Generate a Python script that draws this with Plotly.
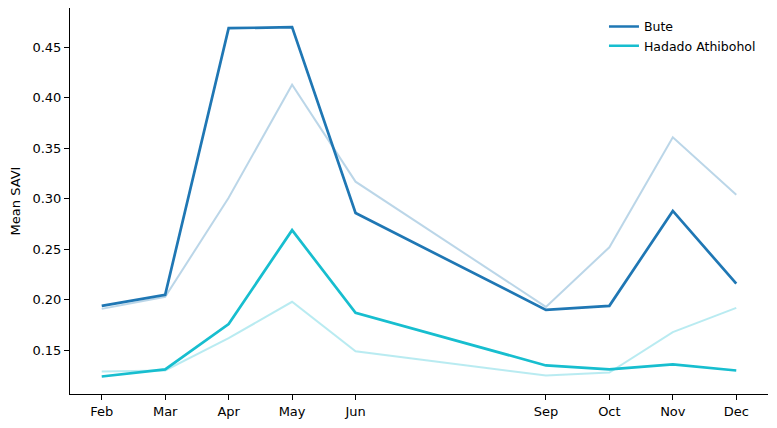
import plotly.graph_objects as go

months = ["Feb", "Mar", "Apr", "May", "Jun", "Sep", "Oct", "Nov", "Dec"]
month_num = [2, 3, 4, 5, 6, 9, 10, 11, 12]

bute = [0.194, 0.205, 0.469, 0.470, 0.286, 0.190, 0.194, 0.288, 0.216]
bute_prev = [0.191, 0.203, 0.301, 0.413, 0.317, 0.193, 0.252, 0.361, 0.304]
hadado = [0.124, 0.131, 0.176, 0.269, 0.187, 0.135, 0.131, 0.136, 0.130]
hadado_prev = [0.129, 0.130, 0.162, 0.198, 0.149, 0.125, 0.128, 0.168, 0.192]

blue = "#1f77b4"
cyan = "#17becf"

fig = go.Figure()
# faint lines first so the main ones sit on top
fig.add_trace(go.Scatter(x=month_num, y=bute_prev, mode="lines", showlegend=False,
                         line=dict(color="rgba(31,119,180,0.3)", width=2)))
fig.add_trace(go.Scatter(x=month_num, y=hadado_prev, mode="lines", showlegend=False,
                         line=dict(color="rgba(23,190,207,0.3)", width=2)))
fig.add_trace(go.Scatter(x=month_num, y=bute, mode="lines", name="Bute",
                         line=dict(color=blue, width=2.7)))
fig.add_trace(go.Scatter(x=month_num, y=hadado, mode="lines", name="Hadado Athibohol",
                         line=dict(color=cyan, width=2.7)))

# page body adds 8px, so the figure is a bit smaller than the window
fig.update_layout(
    width=769, height=420,
    margin=dict(l=62, r=9, t=0, b=34),
    plot_bgcolor="white", paper_bgcolor="white",
    font=dict(family="DejaVu Sans", size=13, color="black"),
    legend=dict(x=0.765, y=0.99, xanchor="left", yanchor="top",
                bgcolor="rgba(0,0,0,0)", font=dict(size=12.5),
                itemwidth=30, tracegroupgap=0),
)
fig.update_xaxes(range=[1.5, 12.5], tickvals=month_num, ticktext=months,
                 showgrid=False, zeroline=False, showline=True, linecolor="black",
                 linewidth=1, ticks="outside", ticklen=5, tickcolor="black")
fig.update_yaxes(range=[0.1067, 0.489], dtick=0.05, tick0=0.15, tickformat=".2f",
                 title=dict(text="Mean SAVI", standoff=10, font=dict(size=13)),
                 showgrid=False, zeroline=False, showline=True, linecolor="black",
                 linewidth=1, ticks="outside", ticklen=5, tickcolor="black")

fig.write_html("out.html")
